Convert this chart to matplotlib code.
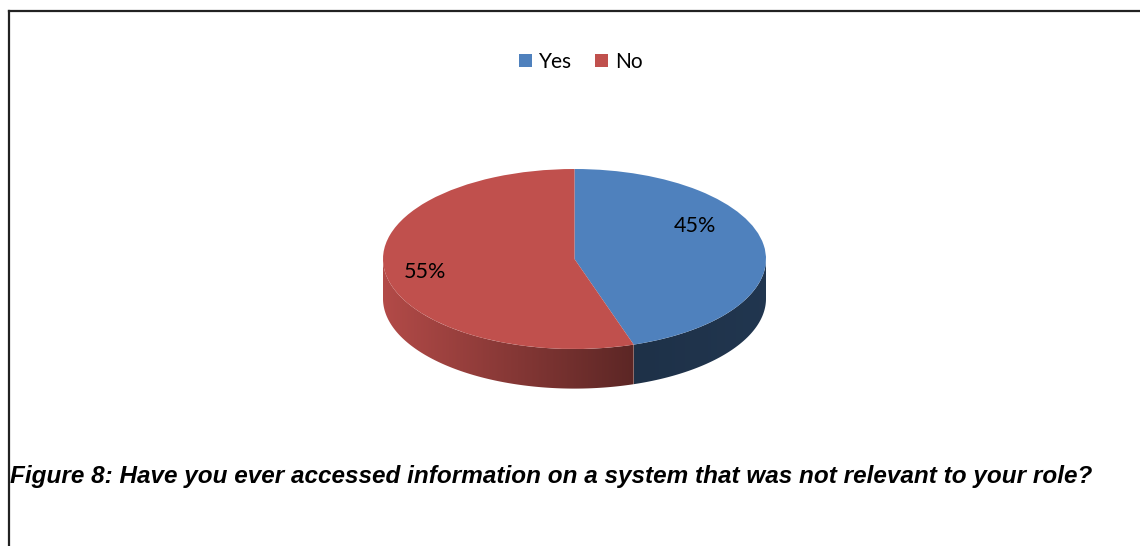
import numpy as np
import matplotlib
matplotlib.use("Agg")
import matplotlib.pyplot as plt
from matplotlib.patches import Polygon, Patch
from matplotlib.lines import Line2D

# survey answers (percent)
labels = ["Yes", "No"]
values = [45, 55]
colors = ["#4F81BD", "#C0504D"]
caption = "Figure 8: Have you ever accessed information on a system that was not relevant to your role?"

plt.rcParams['font.family'] = ['Lato', 'DejaVu Sans']

W, H = 1140, 546
fig = plt.figure(figsize=(W / 100, H / 100), dpi=100)

# frame around the figure (left and top edges visible)
fig.add_artist(Line2D([8.5 / W, 8.5 / W], [0, 1 - 11 / H], transform=fig.transFigure,
                      color="#222222", lw=1.6))
fig.add_artist(Line2D([8.5 / W, 1], [1 - 11 / H, 1 - 11 / H], transform=fig.transFigure,
                      color="#222222", lw=1.6))

# pie axes: unit circle squashed into an ellipse by the axes aspect
depth = 0.44
ytop, ybot = 1.05, -1.5
px_x0, px_x1 = 383, 766
cy, ry = 259, 90
ax = fig.add_axes([px_x0 / W, (H - (cy - ybot * ry)) / H,
                   (px_x1 - px_x0) / W, (ytop - ybot) * ry / H])

wedges, _ = ax.pie(values, colors=colors, startangle=90, counterclock=False,
                   wedgeprops=dict(linewidth=0), radius=1)
for w in wedges:
    w.set_zorder(5)
ax.set_aspect('auto')

# side walls of the front half
bounds = []
a = 90.0
for v in values:
    a2 = a - 360.0 * v / sum(values)
    bounds.append((a2, a))
    a = a2


def shade(rgb, f):
    return np.clip(np.array(rgb) * f, 0, 1)


side_shades = [(0.38, 0.42), (0.93, 0.48)]
for (t0, t1), col, (f0, f1) in zip(bounds, colors, side_shades):
    # clip to the visible front range 180..360
    lo, hi = t0 % 360, t1 % 360
    if hi <= lo:
        hi += 360
    lo2, hi2 = max(lo, 180), min(hi, 360)
    if hi2 <= lo2:
        lo2, hi2 = max(lo - 360, 180), min(hi - 360, 360)
        if hi2 <= lo2:
            continue
    t = np.radians(np.linspace(lo2, hi2, 200))
    top = np.column_stack([np.cos(t), np.sin(t)])
    bot = np.column_stack([np.cos(t[::-1]), np.sin(t[::-1]) - depth])
    poly = Polygon(np.vstack([top, bot]), closed=True, facecolor='none', edgecolor='none')
    ax.add_patch(poly)
    xs0, xs1 = np.cos(t).min(), np.cos(t).max()
    base = matplotlib.colors.to_rgb(col)
    grad = np.linspace(f0, f1, 256)
    img = np.array([[shade(base, f) for f in grad]])
    im = ax.imshow(img, extent=[xs0, xs1, -1 - depth, 0.05], aspect='auto',
                   interpolation='bilinear', zorder=3)
    im.set_clip_path(poly)

ax.set_xlim(-1, 1)
ax.set_ylim(ybot, ytop)
ax.axis('off')

# percentage labels
label_pos = [(0.63, 0.37), (-0.78, -0.14)]
for (x, y), v in zip(label_pos, values):
    ax.text(x, y, f"{v}%", ha='center', va='center', fontsize=15.5, color='black', zorder=10)

# legend
handles = [Patch(facecolor=c, edgecolor='none') for c in colors]
fig.legend(handles, labels, loc='center', bbox_to_anchor=(581 / W, 1 - 62 / H), ncol=2,
           frameon=False, fontsize=15, handlelength=0.6, handleheight=0.6,
           handletextpad=0.35, columnspacing=1.1)

cap = fig.text(10 / W, 1 - 476 / H, caption, ha='left', va='center', fontsize=16,
               fontweight='bold', fontstyle='italic',
               family=['Liberation Sans', 'DejaVu Sans'])
# fit the caption to run across the frame
r = fig.canvas.get_renderer()
wpx = cap.get_window_extent(r).width
cap.set_fontsize(16 * 1080 / wpx)

fig.savefig("out.png", dpi=100)
